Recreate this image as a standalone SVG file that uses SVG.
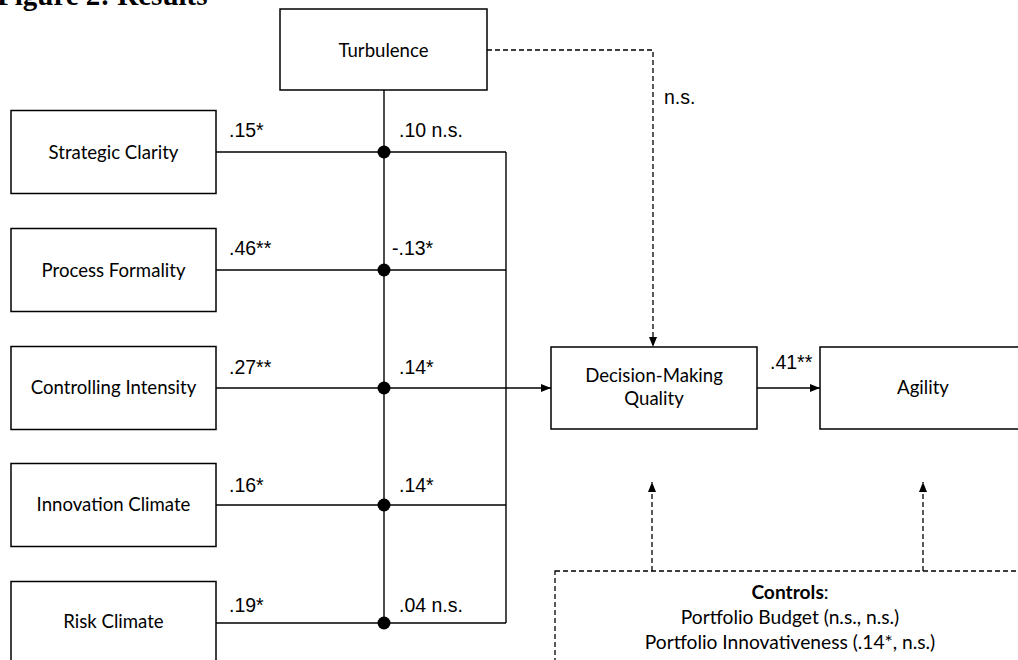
<svg xmlns="http://www.w3.org/2000/svg" width="1018" height="660" viewBox="0 0 1018 660">
<style>
.box{fill:#fff;stroke:#000;stroke-width:1.5}
.ln{fill:none;stroke:#000;stroke-width:1.4}
.dash{fill:none;stroke:#000;stroke-width:1.3;stroke-dasharray:5 3}
.nt{font-family:Lato,"Open Sans",sans-serif;font-size:18.6px;fill:#000;text-anchor:middle}
.ct{font-size:19.2px}
.lb{font-family:"Liberation Sans",Arial,sans-serif;font-size:19.5px;fill:#000}
.title{font-family:"Liberation Serif","Times New Roman",serif;font-size:29px;font-weight:bold;fill:#000}
</style>
<defs>
<marker id="ah" markerUnits="userSpaceOnUse" markerWidth="10" markerHeight="8" refX="10" refY="4" orient="auto">
<path d="M0,0 L10,4 L0,8 z" fill="#000"/>
</marker>
</defs>
<rect width="1018" height="660" fill="#fff"/>
<text class="title" x="-3" y="5">Figure 2: Results</text>

<g id="connectors">
<line class="ln" x1="384" y1="90" x2="384" y2="623"/>
<line class="ln" x1="506" y1="152" x2="506" y2="623"/>
<line class="ln" x1="216" y1="152" x2="506" y2="152"/>
<line class="ln" x1="216" y1="270" x2="506" y2="270"/>
<line class="ln" x1="216" y1="388" x2="551" y2="388" marker-end="url(#ah)"/>
<line class="ln" x1="216" y1="505" x2="506" y2="505"/>
<line class="ln" x1="216" y1="623" x2="506" y2="623"/>
<line class="ln" x1="757" y1="388" x2="820" y2="388" marker-end="url(#ah)"/>
<path class="dash" d="M487,50 H653 V347" marker-end="url(#ah)"/>
<line class="dash" x1="652" y1="571" x2="652" y2="482" marker-end="url(#ah)"/>
<line class="dash" x1="923" y1="571" x2="923" y2="482" marker-end="url(#ah)"/>
<g fill="#000">
<circle cx="384" cy="152" r="6.5"/>
<circle cx="384" cy="270" r="6.5"/>
<circle cx="384" cy="388" r="6.5"/>
<circle cx="384" cy="505" r="6.5"/>
<circle cx="384" cy="623" r="6.5"/>
</g>
<text class="lb" x="229" y="137">.15*</text>
<text class="lb" x="229" y="255">.46**</text>
<text class="lb" x="229" y="374">.27**</text>
<text class="lb" x="229" y="492">.16*</text>
<text class="lb" x="229" y="612">.19*</text>
<text class="lb" x="399" y="137">.10 n.s.</text>
<text class="lb" x="392" y="255">-.13*</text>
<text class="lb" x="399" y="374">.14*</text>
<text class="lb" x="399" y="492">.14*</text>
<text class="lb" x="399" y="612">.04 n.s.</text>
<text class="lb" x="664" y="104">n.s.</text>
<text class="lb" x="770" y="369">.41**</text>
</g>

<g id="turbulence">
<rect class="box" x="280" y="9" width="207" height="81"/>
<text class="nt" x="383.5" y="57">Turbulence</text>
</g>
<g id="strategic-clarity">
<rect class="box" x="11" y="110.5" width="205" height="83"/>
<text class="nt" x="113.5" y="159">Strategic Clarity</text>
</g>
<g id="process-formality">
<rect class="box" x="11" y="228.5" width="205" height="83"/>
<text class="nt" x="113.5" y="277">Process Formality</text>
</g>
<g id="controlling-intensity">
<rect class="box" x="11" y="346.5" width="205" height="83"/>
<text class="nt" x="113.5" y="394">Controlling  Intensity</text>
</g>
<g id="innovation-climate">
<rect class="box" x="11" y="463.5" width="205" height="83"/>
<text class="nt" x="113.5" y="511">Innovation Climate</text>
</g>
<g id="risk-climate">
<rect class="box" x="11" y="581.5" width="205" height="83"/>
<text class="nt" x="113.5" y="628">Risk Climate</text>
</g>
<g id="decision-making-quality">
<rect class="box" x="551" y="347" width="206" height="82"/>
<text class="nt" x="654" y="382">Decision-Making</text>
<text class="nt" x="654" y="405">Quality</text>
</g>
<g id="agility">
<rect class="box" x="820" y="347" width="206" height="82"/>
<text class="nt" x="923" y="394">Agility</text>
</g>
<g id="controls">
<rect class="dash" x="555" y="571" width="470" height="120"/>
<text class="nt ct" x="790" y="599"><tspan font-weight="bold">Controls</tspan>:</text>
<text class="nt ct" x="790" y="624">Portfolio Budget (n.s., n.s.)</text>
<text class="nt ct" x="790" y="649">Portfolio Innovativeness (.14*, n.s.)</text>
</g>
</svg>
